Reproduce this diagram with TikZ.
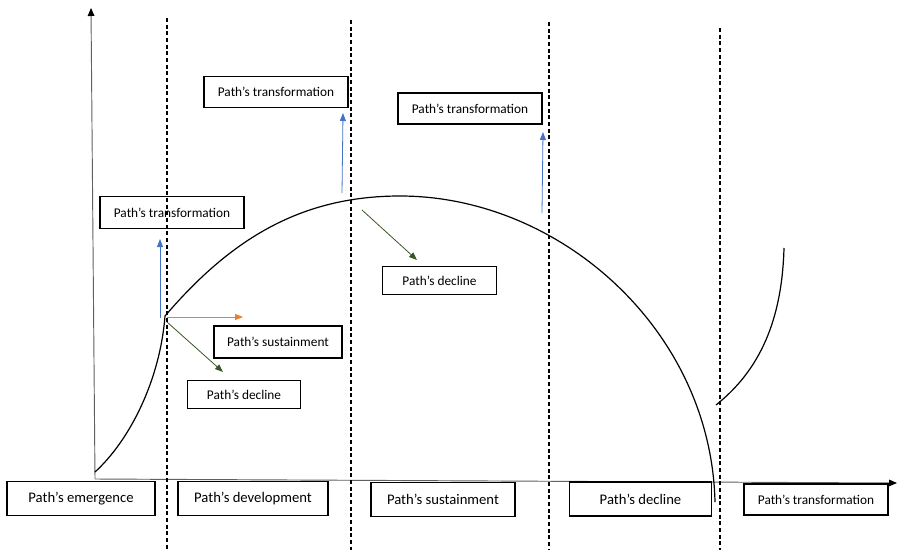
\documentclass[tikz,border=0pt]{standalone}
\usepackage{fontspec}
\setmainfont{Carlito}
\usetikzlibrary{arrows.meta}

\definecolor{tblue}{HTML}{4472C4}
\definecolor{torange}{HTML}{ED7D31}
\definecolor{tgreen}{HTML}{375623}

\begin{document}
\begin{tikzpicture}[x=0.75pt, y=-0.75pt,
  phase/.style={draw, line width=0.8pt, inner sep=0pt, font=\fontsize{11}{13}\selectfont},
  outcome/.style={draw, line width=0.8pt, inner sep=0pt, font=\fontsize{10}{12}\selectfont},
  boundary/.style={dash pattern=on 3pt off 2pt, line width=0.9pt},
  axis/.style={gray!75!black, line width=0.7pt, -{Triangle[length=6pt, width=5pt, color=black]}},
  arrow/.style={line width=0.6pt, -{Triangle[length=6pt, width=4.5pt]}},
]
\useasboundingbox (0,0) rectangle (902,553);

% === Axes ===
\coordinate (origin) at (95,479);
\coordinate (ytop) at (91,8);
\coordinate (xend) at (897,483);
\draw[axis] (origin) -- (ytop);
\draw[axis] (origin) -- (xend);

% === Phase boundaries ===
\foreach \xb/\yt in {167/18, 351/20, 549/22, 720/28}
  \draw[boundary] (\xb,\yt) -- (\xb,550);

% === Life cycle curve ===
\coordinate (c0) at (95,472);
\coordinate (c1) at (165,316);
\coordinate (peak) at (400,196);
\coordinate (c2) at (715,502);
\coordinate (c3) at (716,405);
\coordinate (c4) at (784,248);
\draw[line width=0.9pt] (c0) .. controls (130,440) and (160,380) .. (c1)
  .. controls (230,240) and (300,196) .. (peak)
  .. controls (560,196) and (711,330) .. (c2);
\draw[line width=0.9pt] (c3) .. controls (760,370) and (782,320) .. (c4);

% === Phases ===
\node[phase, minimum width=111pt, minimum height=26pt] (emerge) at (81,498.5) {Path’s emergence};
\node[phase, minimum width=112.5pt, minimum height=26pt] (develop) at (253,498.5) {Path’s development};
\node[phase, minimum width=108pt, minimum height=25pt] (sustain) at (443,499.5) {Path’s sustainment};
\node[phase, minimum width=107pt, minimum height=25.5pt] (decline) at (640.5,499) {Path’s decline};
\node[outcome, minimum width=108pt, minimum height=23.25pt] (transform) at (816,499.5) {Path’s transformation};

% === Outcomes at the end of development ===
\node[outcome, minimum width=108pt, minimum height=23.5pt] (devtrans) at (172,212.5) {Path’s transformation};
\node[outcome, minimum width=96pt, minimum height=24pt] (devsust) at (278,342) {Path’s sustainment};
\node[outcome, minimum width=85pt, minimum height=20.5pt] (devdecl) at (244,394.5) {Path’s decline};

\coordinate (d0) at (160,318);
\coordinate (d1) at (160,239);
\coordinate (d2) at (167,317);
\coordinate (d3) at (243,317);
\coordinate (d4) at (167,322);
\coordinate (d5) at (223,372);
\draw[arrow, tblue] (d0) -- (d1);
\draw[arrow, torange] (d2) -- (d3);
\draw[arrow, tgreen] (d4) -- (d5);

% === Outcomes of sustainment ===
\node[outcome, minimum width=108pt, minimum height=23.25pt] (susttrans) at (276,92) {Path’s transformation};
\node[outcome, minimum width=85pt, minimum height=20.5pt] (sustdecl) at (439.5,280.5) {Path’s decline};
\coordinate (s0) at (342,193);
\coordinate (s1) at (343,113);
\coordinate (s2) at (362,210);
\coordinate (s3) at (417,260);
\draw[arrow, tblue] (s0) -- (s1);
\draw[arrow, tgreen] (s2) -- (s3);

% === Outcome of decline ===
\node[outcome, minimum width=108pt, minimum height=23.25pt] (decltrans) at (470,108.5) {Path’s transformation};
\coordinate (e0) at (542,213);
\coordinate (e1) at (543,132);
\draw[arrow, tblue] (e0) -- (e1);

\end{tikzpicture}
\end{document}
